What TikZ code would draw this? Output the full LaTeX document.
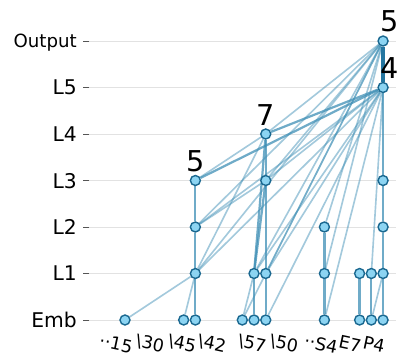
\documentclass[tikz,border=0pt]{standalone}
\usepackage{fontspec}
\setmainfont{DejaVu Sans}
\usepackage{xcolor}
\usetikzlibrary{positioning}
\definecolor{gridc}{HTML}{E2E2E2}
\definecolor{tickc}{HTML}{555555}
\definecolor{edgec}{HTML}{3F8FB5}
\definecolor{nodefill}{HTML}{8CD4F2}
\definecolor{nodedraw}{HTML}{1A6890}
\definecolor{strongc}{HTML}{2476A0}
\pgfdeclarelayer{background}
\pgfdeclarelayer{edges}
\pgfsetlayers{background,edges,main}
\tikzset{
  tok/.style   ={circle, draw=nodedraw, line width=1.2pt, fill=nodefill, inner sep=0pt,
                 minimum size=3.0mm},
  lnk/.style   ={draw=edgec, line width=1.4pt, draw opacity=0.48},
  res/.style   ={draw=edgec, line width=1.9pt, draw opacity=0.75},
  top/.style   ={draw=strongc, line width=3.4pt},
  gl/.style    ={draw=gridc, line width=0.8pt},
  tk/.style    ={draw=tickc, line width=0.8pt},
  lab/.style   ={font=\fontsize{17.3}{20}\selectfont, anchor=east, inner sep=0pt, text depth=0pt},
  labsm/.style ={lab, font=\fontsize{15.5}{18}\selectfont},
  cnt/.style   ={font=\fontsize{24.5}{26}\selectfont, inner sep=0pt},
  w/.style     ={font=\fontsize{15}{16}\selectfont, rotate=-12, inner sep=0pt},
}

\begin{document}
\begin{tikzpicture}[x=0.03cm,y=-0.03cm]
  \def\dx{11.73}
  \def\dy{46.5}
  \useasboundingbox (0,0) rectangle (408,362);
  % layer rows: grid line, tick and name
  \begin{pgfonlayer}{background}
  \foreach \r/\txt/\st in {0/Emb/lab,1/L1/lab,2/L2/lab,3/L3/lab,4/L4/lab,5/L5/lab,6/Output/labsm}{
    \coordinate (g\r) at (89,{320-\r*\dy});
    \draw[gl] (g\r) -- ++(307,0);
    \draw[tk] (g\r) -- ++(-6,0);
    \node[\st] (y\r) at (77,{320-\r*\dy}) {\txt};
  }
  \end{pgfonlayer}
  \foreach \r/\cols in {0/{0,5,6,10,11,12,17,20,21,22},1/{6,11,12,17,20,21,22},
                        2/{6,17,22},3/{6,12,22},4/{12},5/{22},6/{22}}
    \foreach \c in \cols
      \node[tok] (t\r-\c) at ({125+\c*\dx},{320-\r*\dy}) {};
  \begin{pgfonlayer}{edges}
  \foreach \a/\b in {0-0/1-6,0-5/1-6,0-10/1-11,0-21/1-22,1-21/5-22,2-17/6-22,
                     3-6/4-12,4-12/6-22,3-12/5-22,3-12/6-22,2-6/3-12,2-6/5-22,2-6/6-22,
                     1-6/4-12,1-6/5-22,1-6/6-22,1-11/5-22,1-11/6-22,1-12/5-22,1-12/6-22,
                     0-10/6-22,0-12/5-22,0-17/5-22,1-17/6-22}
    \draw[lnk] (t\a) -- (t\b);
  \foreach \a/\b in {0-6/1-6,1-6/2-6,2-6/3-6,0-11/1-11,0-12/1-12,1-12/3-12,3-12/4-12,
                     1-11/3-12,1-11/4-12,0-17/1-17,1-17/2-17,0-20/1-20,0-21/1-21,
                     0-22/1-22,1-22/2-22,2-22/3-22,3-22/5-22,4-12/5-22,3-6/5-22}
    \draw[res] (t\a) -- (t\b);
  \draw[top] (t5-22) -- (t6-22);
  \end{pgfonlayer}
  \node[cnt, above=2.5pt of t3-6] (k3) {5};
  \node[cnt, above=2.5pt of t4-12] (k4) {7};
  \node[cnt, above=2.5pt of t5-22, xshift=6pt] (k5) {4};
  \node[cnt, above=2.5pt of t6-22, xshift=6pt] (k6) {5};
  % token names along the bottom
  \foreach \x/\txt [count=\i] in {116/··15,150/\textbackslash30,182/\textbackslash45,
                                  212/\textbackslash42,252/\textbackslash57,284/\textbackslash50,
                                  321/··S4,350/E7,374/P4}
    \node[w] (x\i) at (\x,344) {\txt};
\end{tikzpicture}
\end{document}
